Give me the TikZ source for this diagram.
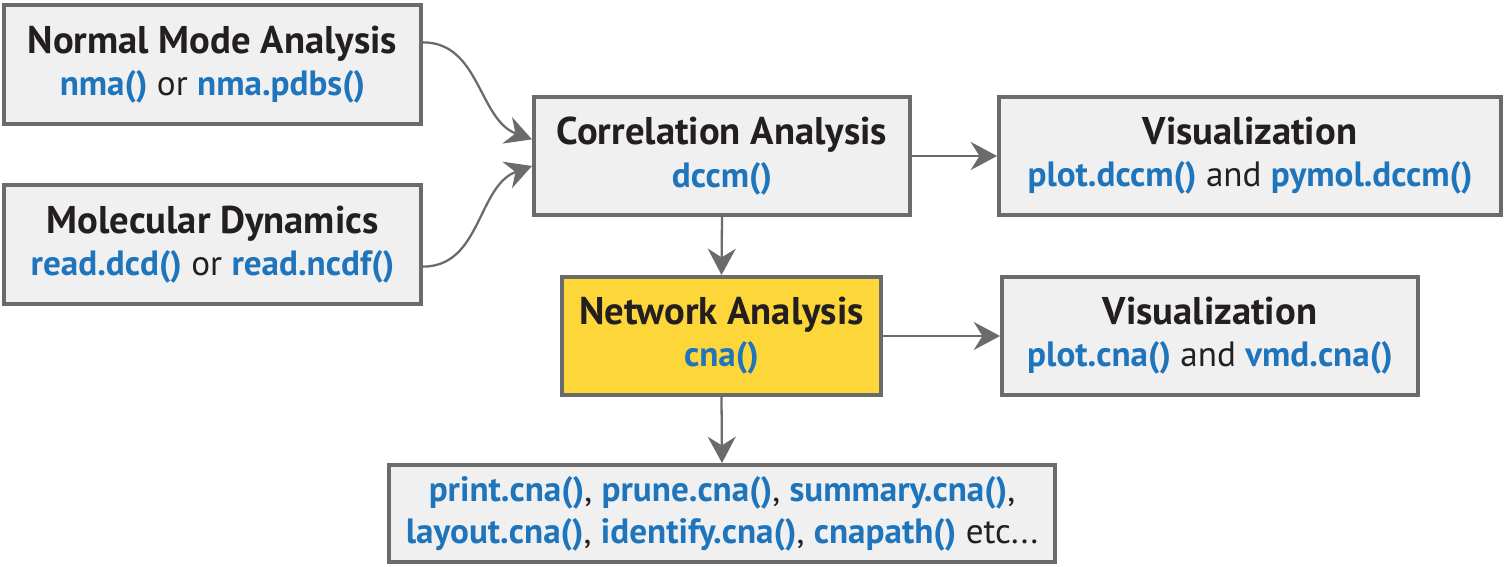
\documentclass[tikz,border=0pt]{standalone}
\usepackage{fontspec}
\setmainfont{PT Sans}
\usetikzlibrary{arrows.meta}
\definecolor{BoxGray}{HTML}{F0F0F0}
\definecolor{EdgeGray}{HTML}{6B6B6B}
\definecolor{FnBlue}{HTML}{1F75BC}
\definecolor{NetYellow}{HTML}{FDD73A}
\definecolor{InkBlack}{HTML}{231F20}
\newcommand{\fn}[1]{\textcolor{FnBlue}{\bfseries #1}}
\newcommand{\hd}[1]{{\fontsize{22}{26}\selectfont\bfseries #1}}
\begin{document}
\begin{tikzpicture}
    [x=0.02cm, y=-0.02cm,
    StepBox/.style={rectangle, draw=EdgeGray, fill=BoxGray, line width=2.3pt, align=center,
        text=InkBlack, font=\fontsize{20}{24}\selectfont, inner sep=0pt},
    KeyBox/.style={StepBox, fill=NetYellow},
    Flow/.style={draw=EdgeGray, line width=1.3pt, -{Stealth[length=15pt,width=16pt,inset=5pt]}}]
     \useasboundingbox (0,0) rectangle (1505,567);
     \node[StepBox, minimum width=8.34cm, minimum height=2.38cm] (NmaNode) at (212.5, 64.5)
        {\hd{Normal Mode Analysis}\\ \fn{nma()} or \fn{nma.pdbs()}};
     \node[StepBox, minimum width=8.34cm, minimum height=2.38cm] (MdNode) at (212.5, 244.5)
        {\hd{Molecular Dynamics}\\ \fn{read.dcd()} or \fn{read.ncdf()}};
     \node[StepBox, minimum width=7.52cm, minimum height=2.36cm] (CorrNode) at (722, 156)
        {\hd{Correlation Analysis}\\ \fn{dccm()}};
     \node[StepBox, minimum width=10.04cm, minimum height=2.36cm] (VisTopNode) at (1250, 156)
        {\hd{Visualization}\\ \fn{plot.dccm()} and \fn{pymol.dccm()}};
     \node[KeyBox, minimum width=6.38cm, minimum height=2.36cm] (NetNode) at (721.5, 336)
        {\hd{Network Analysis}\\ \fn{cna()}};
     \node[StepBox, minimum width=8.32cm, minimum height=2.36cm] (VisMidNode) at (1210, 336)
        {\hd{Visualization}\\ \fn{plot.cna()} and \fn{vmd.cna()}};
     \node[StepBox, minimum width=13.32cm, minimum height=1.94cm] (ToolsNode) at (722, 513.5)
        {\fn{print.cna()}, \fn{prune.cna()}, \fn{summary.cna()},\\
         \fn{layout.cna()}, \fn{identify.cna()}, \fn{cnapath()} etc...};
     \draw[Flow] (NmaNode.6.5) to[out=0, in=160] (CorrNode.175);
     \draw[Flow] (MdNode.-6) to[out=0, in=200] (CorrNode.183.5);
     \draw[Flow] (CorrNode.east) -- (VisTopNode.west);
     \draw[Flow] (CorrNode.south) -- (NetNode.north);
     \draw[Flow] (NetNode.east) -- (VisMidNode.west);
     \draw[Flow] (NetNode.south) -- (ToolsNode.north);
\end{tikzpicture}
\end{document}
